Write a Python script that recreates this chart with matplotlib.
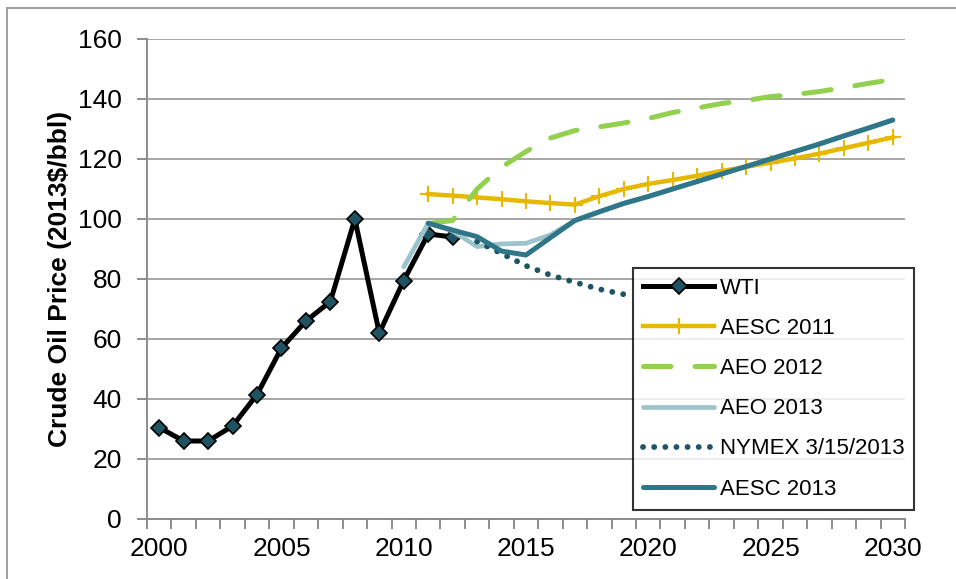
#!/usr/bin/env python3
"""
Crude oil price history (WTI) and forecasts, 2000-2030.
"""

import matplotlib
matplotlib.use("Agg")
import matplotlib.pyplot as plt
from matplotlib.lines import Line2D
from matplotlib.ticker import MultipleLocator, FixedLocator

plt.rcParams['font.family'] = ['Liberation Sans', 'DejaVu Sans']

# historical WTI, 2000-2012
wti_years = list(range(2000, 2013))
wti_price = [30.5, 26, 26, 31, 41.5, 57, 66, 72.5, 100, 62, 79.5, 95, 94]

# AESC 2011 forecast, 2011-2030
aesc11_years = list(range(2011, 2031))
aesc11_price = [108.3, 107.8, 107.2, 106.6, 105.9, 105.3, 104.8, 107.6, 110.0, 111.7,
                113.0, 114.4, 116.0, 117.4, 118.8, 120.2, 121.8, 123.6, 125.4, 127.2]

# AEO 2012 forecast, 2011-2030
aeo12_years = list(range(2011, 2031))
aeo12_price = [98.5, 99.5, 110, 117.3, 122.5, 127, 129.5, 130.7, 132, 133.5,
               135.5, 137, 138.5, 139.5, 140.8, 141.5, 142.5, 143.8, 145.2, 146.5]

# AEO 2013 forecast, 2010-2030
aeo13_years = list(range(2010, 2031))
aeo13_price = [84, 98.6, 96, 90.8, 91.7, 91.9, 94.7, 99.5, 102.4, 105.2, 107.5,
               110, 112.5, 115, 117.5, 120, 122.5, 125, 127.7, 130.3, 133]

# NYMEX futures as of 3/15/2013 (rest is behind the legend)
nymex_years = list(range(2013, 2020))
nymex_price = [92.5, 88.5, 84.4, 81.3, 78.9, 76.6, 74.9]

# AESC 2013 forecast, 2011-2030
aesc13_years = list(range(2011, 2031))
aesc13_price = [98.6, 96.3, 94.1, 89.3, 88, 93.8, 99.5, 102.4, 105.2, 107.5,
                110, 112.5, 115, 117.5, 120, 122.5, 125, 127.7, 130.3, 133]

year_labels = [2000, 2005, 2010, 2015, 2020, 2025, 2030]


def main():
    fig = plt.figure(figsize=(9.56, 5.79), dpi=100)
    ax = fig.add_axes([147 / 956, 1 - 519 / 579, 758 / 956, 480 / 579])

    ax.plot(wti_years, wti_price, color='black', linewidth=3.6, marker='D',
            markersize=8, markerfacecolor='#1f5361', markeredgecolor='black',
            markeredgewidth=1.2, label='WTI', zorder=3)
    ax.plot(aesc11_years, aesc11_price, color='#e6b800', linewidth=3.2,
            marker='+', markersize=12, markeredgewidth=1.5,
            label='AESC 2011', zorder=4)
    ax.plot(aeo12_years, aeo12_price, color='#92d050', linewidth=3.6,
            dashes=(5.5, 4.8), dash_capstyle='round', label='AEO 2012', zorder=5)
    ax.plot(aeo13_years, aeo13_price, color='#9dc3cc', linewidth=3.4,
            solid_capstyle='round', label='AEO 2013', zorder=6)
    ax.plot(nymex_years, nymex_price, color='#1d5566', linewidth=4.2,
            dashes=(0.01, 1.9), dash_capstyle='round',
            label='NYMEX 3/15/2013', zorder=7)
    ax.plot(aesc13_years, aesc13_price, color='#2e7688', linewidth=3.6,
            solid_capstyle='round', label='AESC 2013', zorder=8)

    ax.set_xlim(1999.5, 2030.5)
    ax.set_ylim(0, 160)
    ax.yaxis.set_major_locator(MultipleLocator(20))
    ax.xaxis.set_major_locator(FixedLocator(year_labels))
    ax.xaxis.set_minor_locator(FixedLocator([y + 0.5 for y in range(1999, 2031)]))

    ax.grid(True, axis='y', color='#a6a6a6', linewidth=1.4, zorder=0)
    ax.set_axisbelow(True)
    for side in ('top', 'right'):
        ax.spines[side].set_visible(False)
    for side in ('left', 'bottom'):
        ax.spines[side].set_color('#8c8c8c')
        ax.spines[side].set_linewidth(1.4)

    ax.tick_params(axis='y', direction='out', length=7, width=1.4,
                   color='#8c8c8c', labelsize=19, pad=11)
    ax.tick_params(axis='x', which='major', length=0, labelsize=19, pad=13)
    ax.tick_params(axis='x', which='minor', direction='out', length=7,
                   width=1.4, color='#8c8c8c')

    ax.set_ylabel('Crude Oil Price (2013$/bbl)', fontsize=19,
                  fontweight='bold', labelpad=4)

    leg = ax.legend(loc='upper left', bbox_to_anchor=(633 / 956, 1 - 268 / 579),
                    bbox_transform=fig.transFigure, borderaxespad=0,
                    fontsize=16, frameon=True, fancybox=False, numpoints=1,
                    handlelength=3.2, handletextpad=0.25, labelspacing=0.86,
                    borderpad=0.45)
    leg.get_frame().set_edgecolor('black')
    leg.get_frame().set_linewidth(1.5)
    leg.set_zorder(20)

    # thin gray frame left over from the original chart area
    fig.add_artist(Line2D([7 / 956, 7 / 956], [0, 1 - 8 / 579],
                          transform=fig.transFigure, color='#a0a0a0', linewidth=1.4))
    fig.add_artist(Line2D([7 / 956, 1], [1 - 8 / 579, 1 - 8 / 579],
                          transform=fig.transFigure, color='#a0a0a0', linewidth=1.4))

    fig.savefig('out.png', dpi=100)


if __name__ == "__main__":
    main()
